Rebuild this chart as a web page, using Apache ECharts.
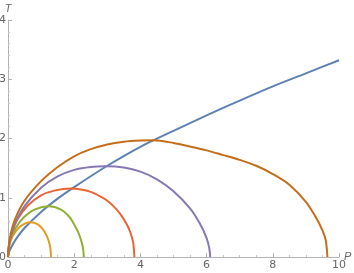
<!DOCTYPE html>
<html>
<head>
<meta charset="utf-8">
<script src="https://cdn.jsdelivr.net/npm/echarts@6/dist/echarts.min.js"></script>
<style>html,body{margin:0;padding:0;background:#fff}#c{width:354px;height:273px}</style>
</head>
<body>
<div id="c"></div>
<script>
// Values
var blueP = [0, 0.03, 0.1, 0.25, 0.5, 1, 1.5, 2, 3, 4, 5, 6, 7, 8, 9, 10];
var blueT = [0, 0.08, 0.17, 0.31, 0.49, 0.76, 0.985, 1.18, 1.54, 1.86, 2.13, 2.39, 2.64, 2.88, 3.10, 3.32];

var yellowP = [0, 0.01, 0.05, 0.12, 0.23, 0.4, 0.68, 0.9, 1.05, 1.16, 1.23, 1.28, 1.30];
var yellowT = [0, 0.08, 0.22, 0.33, 0.43, 0.53, 0.585, 0.55, 0.47, 0.37, 0.27, 0.15, 0];

var greenP = [0, 0.02, 0.08, 0.23, 0.48, 0.8, 1.24, 1.6, 1.85, 2.0, 2.12, 2.22, 2.27, 2.29];
var greenT = [0, 0.15, 0.30, 0.49, 0.67, 0.80, 0.855, 0.80, 0.68, 0.55, 0.42, 0.26, 0.13, 0];

var redP = [0, 0.05, 0.15, 0.3, 0.6, 1.0, 1.4, 1.9, 2.2, 2.5, 2.8, 3.0, 3.2, 3.4, 3.6, 3.7, 3.78, 3.82];
var redT = [0, 0.27, 0.46, 0.65, 0.87, 1.04, 1.12, 1.155, 1.14, 1.10, 1.02, 0.95, 0.85, 0.72, 0.54, 0.41, 0.25, 0];

var purpleP = [0, 0.05, 0.2, 0.5, 1.0, 1.5, 2.0, 2.5, 2.95, 3.5, 4.0, 4.5, 5.0, 5.5, 5.8, 6.0, 6.08, 6.11];
var purpleT = [0, 0.27, 0.55, 0.86, 1.17, 1.36, 1.47, 1.52, 1.53, 1.51, 1.44, 1.31, 1.11, 0.82, 0.56, 0.32, 0.15, 0];

var orangeP = [0, 0.05, 0.2, 0.5, 1.0, 1.5, 2.0, 2.5, 3.0, 3.5, 4.0, 4.4, 5.0, 5.5, 6.0, 6.5, 7.0, 7.5, 8.0, 8.5, 9.0, 9.3, 9.5, 9.6, 9.65];
var orangeT = [0, 0.30, 0.62, 0.95, 1.28, 1.52, 1.70, 1.82, 1.90, 1.945, 1.965, 1.97, 1.925, 1.865, 1.80, 1.72, 1.64, 1.54, 1.40, 1.22, 0.93, 0.67, 0.45, 0.28, 0];

var xTicks = [0, 2, 4, 6, 8, 10];
var yTicks = [0, 1, 2, 3, 4];

function zip(a, b) { return a.map(function (v, i) { return [v, b[i]]; }); }

var curves = [
  { p: blueP, t: blueT, color: '#5E81B5' },
  { p: yellowP, t: yellowT, color: '#E19C24' },
  { p: greenP, t: greenT, color: '#8FB032' },
  { p: redP, t: redT, color: '#EB6235' },
  { p: purpleP, t: purpleT, color: '#8778B3' },
  { p: orangeP, t: orangeT, color: '#C56E1A' }
];

var axisCommon = {
  type: 'value',
  splitLine: { show: false },
  nameMoveOverlap: false,
  axisLine: { show: true, lineStyle: { color: '#b3b3b3', width: 1 } },
  axisTick: { show: true, inside: true, length: 4, lineStyle: { color: '#b3b3b3' } },
  minorTick: { show: true, length: 2, lineStyle: { color: '#c8c8c8' } },
  axisLabel: { color: '#666', fontSize: 11, fontFamily: 'DejaVu Sans' },
  nameTextStyle: { color: '#666', fontSize: 11, fontStyle: 'italic', fontFamily: 'Liberation Sans' }
};

var chart = echarts.init(document.getElementById('c'), null, { renderer: 'canvas' });
chart.setOption({
  animation: false,
  grid: { left: 8, right: 15, top: 20, bottom: 16, containLabel: false, outerBoundsMode: 'none' },
  xAxis: Object.assign({}, axisCommon, {
    min: xTicks[0], max: xTicks[xTicks.length - 1], interval: 2,
    name: 'P', nameLocation: 'end', nameGap: 5,
    nameTextStyle: Object.assign({}, axisCommon.nameTextStyle, { align: 'left', verticalAlign: 'middle' }),
    minorTick: Object.assign({}, axisCommon.minorTick, { splitNumber: 4 }),
    axisLabel: Object.assign({}, axisCommon.axisLabel, { margin: 3 })
  }),
  yAxis: Object.assign({}, axisCommon, {
    min: yTicks[0], max: yTicks[yTicks.length - 1], interval: 1,
    name: 'T', nameLocation: 'end', nameGap: 6,
    nameTextStyle: Object.assign({}, axisCommon.nameTextStyle, { align: 'center', verticalAlign: 'bottom' }),
    minorTick: Object.assign({}, axisCommon.minorTick, { splitNumber: 5 }),
    axisLabel: Object.assign({}, axisCommon.axisLabel, { margin: 2 })
  }),
  series: curves.map(function (c) {
    return {
      type: 'line',
      data: zip(c.p, c.t),
      smooth: 0.3,
      showSymbol: false,
      lineStyle: { color: c.color, width: 2 },
      itemStyle: { color: c.color }
    };
  })
});
</script>
</body>
</html>
